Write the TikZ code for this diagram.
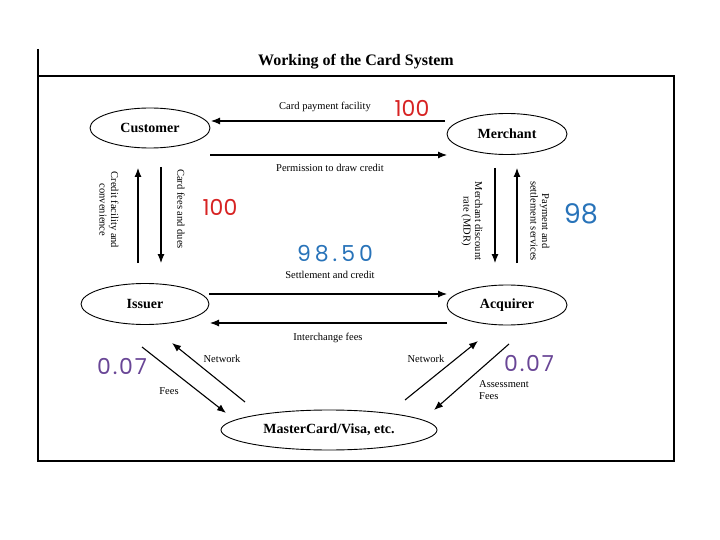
\documentclass[tikz,border=0pt]{standalone}
\usepackage{fontspec}
\setmainfont{Liberation Serif}
\newfontfamily\handfont{Poppins}
\usetikzlibrary{shapes.geometric,arrows.meta}
\definecolor{hred}{RGB}{215,35,35}
\definecolor{hblue}{RGB}{40,115,185}
\definecolor{hpurple}{RGB}{105,70,150}
\tikzset{
  party/.style={ellipse, draw, line width=0.9pt, inner sep=0pt, font=\bfseries\fontsize{14}{16}\selectfont},
  flow/.style={line width=1.1pt, -{Latex[length=9pt,width=7pt]}},
  lbl/.style={font=\fontsize{10.5}{11.5}\selectfont, inner sep=0pt, align=center},
  hand/.style={font=\handfont\fontsize{22}{24}\selectfont, inner sep=0pt}
}
\begin{document}
\begin{tikzpicture}[x=1pt,y=-1pt]
\useasboundingbox (0,0) rectangle (720,540);
% frame
\draw[line width=1.3pt] (38,49) -- (38,461) -- (674,461) -- (674,76);
\draw[line width=2.6pt] (38,76) -- (675,76);
\node[font=\bfseries\fontsize{16}{18}\selectfont] (title) at (356,62) {Working of the Card System};
% parties
\node[party, minimum width=120pt, minimum height=40pt] (cust) at (150,128) {Customer};
\node[party, minimum width=120pt, minimum height=41pt] (merch) at (507,134) {Merchant};
\node[party, minimum width=128pt, minimum height=41pt] (iss) at (145,304) {Issuer};
\node[party, minimum width=120pt, minimum height=40pt] (acq) at (507,305) {Acquirer};
\node[party, minimum width=216pt, minimum height=40pt] (mc) at (329,430) {MasterCard/Visa, etc.};
% coordinates for parallel connectors
\coordinate (a1) at (445,121); \coordinate (a2) at (211,121);
\coordinate (b1) at (210,155); \coordinate (b2) at (447,155);
\coordinate (c1) at (138,263); \coordinate (c2) at (138,168);
\coordinate (d1) at (161,167); \coordinate (d2) at (161,263);
\coordinate (e1) at (495,168); \coordinate (e2) at (495,263);
\coordinate (f1) at (517,263); \coordinate (f2) at (517,168);
\coordinate (g1) at (209,294); \coordinate (g2) at (447,294);
\coordinate (h1) at (447,323); \coordinate (h2) at (210,323);
\coordinate (i1) at (245,402); \coordinate (i2) at (172,343);
\coordinate (j1) at (142,347); \coordinate (j2) at (226,413);
\coordinate (k1) at (405,400); \coordinate (k2) at (478,341);
\coordinate (l1) at (509,344); \coordinate (l2) at (434,410);
% connectors
\draw[flow] (a1) -- (a2);
\draw[flow] (b1) -- (b2);
\draw[flow] (c1) -- (c2);
\draw[flow] (d1) -- (d2);
\draw[flow] (e1) -- (e2);
\draw[flow] (f1) -- (f2);
\draw[flow] (g1) -- (g2);
\draw[flow] (h1) -- (h2);
\draw[flow] (i1) -- (i2);
\draw[flow] (j1) -- (j2);
\draw[flow] (k1) -- (k2);
\draw[flow] (l1) -- (l2);
% labels
\node[lbl] (t1) at (325,107) {Card payment facility};
\node[lbl] (t2) at (330,168) {Permission to draw credit};
\node[lbl, rotate=-90] (t3) at (109,210) {Credit facility and\\convenience};
\node[lbl, rotate=-90] (t4) at (181,209) {Card fees and dues};
\node[lbl, rotate=-90] (t5) at (472,221) {Merchant discount\\rate (MDR)};
\node[lbl, rotate=-90] (t6) at (540,221) {Payment and\\settlement services};
\node[lbl] (t7) at (330,275) {Settlement and credit};
\node[lbl] (t8) at (328,338) {Interchange fees};
\node[lbl] (t9) at (222,359) {Network};
\node[lbl] (t10) at (169,391) {Fees};
\node[lbl] (t11) at (426,359) {Network};
\node[lbl, align=left, anchor=west] (t12) at (479,390) {Assessment\\Fees};
% handwritten figures
\node[hand, text=hred] (n1) at (412,108) {100};
\node[hand, text=hred] (n2) at (220,207) {100};
\node[hand, text=hblue, font=\handfont\fontsize{27}{29}\selectfont] (n3) at (581,214) {98};
\node[hand, text=hblue, font=\handfont\fontsize{22}{24}\selectfont\addfontfeatures{LetterSpace=18}] (n4) at (335,254) {98.50};
\node[hand, text=hpurple, font=\handfont\fontsize{22}{24}\selectfont\addfontfeatures{LetterSpace=8}] (n5) at (122,366) {0.07};
\node[hand, text=hpurple, font=\handfont\fontsize{22}{24}\selectfont\addfontfeatures{LetterSpace=8}] (n6) at (529,363) {0.07};
\end{tikzpicture}
\end{document}
